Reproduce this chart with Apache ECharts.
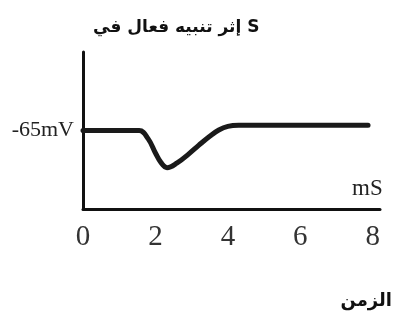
<!DOCTYPE html>
<html><head><meta charset="utf-8">
<script src="https://cdn.jsdelivr.net/npm/echarts@6/dist/echarts.min.js"></script>
<style>html,body{margin:0;padding:0;background:#fff}#c{width:399px;height:331px}</style>
</head><body><div id="c"></div>
<script>
const titleText = 'إثر تنبيه فعال في S';
const xAxisTitle = 'الزمن';
const unitX = 'mS';
const timeMs = [0, 1.55, 1.8, 2.0, 2.15, 2.32, 2.6, 2.9, 3.2, 3.5, 3.75, 4.0, 4.3, 7.87];
const potentialMv = [-65, -65, -66.6, -69.3, -71.1, -72.1, -71.2, -69.6, -67.8, -66.1, -64.9, -64.2, -64, -64];
const xTicks = [0, 2, 4, 6, 8];
const yLabelValue = -65;

const chart = echarts.init(document.getElementById('c'));
chart.setOption({
  backgroundColor: '#fff',
  animation: false,
  title: [
    { text: titleText, left: 88, top: 14,
      textStyle: { fontFamily: 'DejaVu Sans', fontWeight: 'bold', fontSize: 17, color: '#111' } },
    { text: xAxisTitle, right: 2, top: 287,
      textStyle: { fontFamily: 'DejaVu Sans', fontWeight: 'bold', fontSize: 18, color: '#111' } }
  ],
  grid: { left: 83, right: 19, top: 52, bottom: 122 },
  xAxis: {
    type: 'value', min: 0, max: 8.2, interval: 2,
    name: unitX, nameLocation: 'end', nameGap: -28,
    nameTextStyle: { fontFamily: 'Liberation Serif', fontSize: 23, color: '#222',
      verticalAlign: 'bottom', padding: [0, 0, 9, 0] },
    axisLine: { show: true, lineStyle: { color: '#111', width: 3 } },
    axisTick: { show: false },
    splitLine: { show: false },
    axisLabel: {
      showMaxLabel: false, margin: 14,
      fontFamily: 'Liberation Serif', fontSize: 29, color: '#333',
      formatter: v => xTicks.includes(v) ? String(v) : ''
    }
  },
  yAxis: {
    type: 'value', min: -80, max: -50, interval: 5,
    axisLine: { show: true, lineStyle: { color: '#111', width: 3 } },
    axisTick: { show: false },
    splitLine: { show: false },
    axisLabel: {
      margin: 9, showMinLabel: true, showMaxLabel: true,
      fontFamily: 'Liberation Serif', fontSize: 22, color: '#222',
      formatter: v => v === yLabelValue ? '-65mV' : ''
    }
  },
  series: [{
    type: 'line', smooth: 0.4, symbol: 'none',
    data: timeMs.map((t, i) => [t, potentialMv[i]]),
    lineStyle: { color: '#1a1a1a', width: 5, cap: 'round' }
  }]
});
</script></body></html>
